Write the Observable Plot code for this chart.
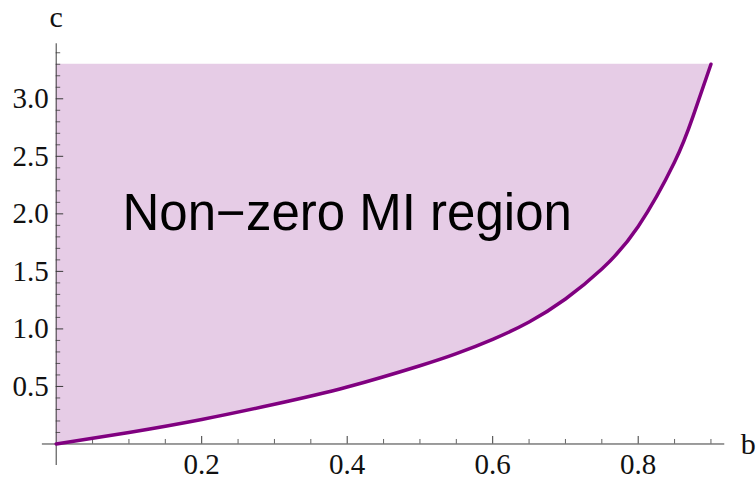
<!DOCTYPE html>
<html>
<head>
<meta charset="utf-8">
<script src="https://cdn.jsdelivr.net/npm/d3@7"></script>
<script src="https://cdn.jsdelivr.net/npm/@observablehq/plot@0.6"></script>
<style>
  html, body { margin: 0; padding: 0; background: #fff; }
  #chart svg { display: block; }
</style>
</head>
<body>
<div id="chart"></div>
<script>
// boundary curve
const bValues = [0, 0.1, 0.2, 0.3, 0.4, 0.5, 0.55, 0.6, 0.65, 0.7, 0.75, 0.8, 0.85, 0.875, 0.9];
const cValues = [0, 0.10, 0.213, 0.345, 0.495, 0.68, 0.785, 0.91, 1.06, 1.26, 1.52, 1.89, 2.45, 2.84, 3.30];
const regionTop = 3.3;

const xMajorTicks = [0.2, 0.4, 0.6, 0.8];
const xTickLabels = ["0.2", "0.4", "0.6", "0.8"];
const xMinorTicks = [0.05, 0.1, 0.15, 0.25, 0.3, 0.35, 0.45, 0.5, 0.55, 0.65, 0.7, 0.75, 0.85, 0.9];
const yMajorTicks = [0.5, 1.0, 1.5, 2.0, 2.5, 3.0];
const yTickLabels = ["0.5", "1.0", "1.5", "2.0", "2.5", "3.0"];
const yMinorTicks = [0.1,0.2,0.3,0.4,0.6,0.7,0.8,0.9,1.1,1.2,1.3,1.4,1.6,1.7,1.8,1.9,2.1,2.2,2.3,2.4,2.6,2.7,2.8,2.9,3.1,3.2,3.3,3.4];
const xAxisExtent = [-0.019, 0.919];
const yAxisExtent = [-0.187, 3.478];
const regionLabel = [{b: 0.4, c: 2.0, text: "Non\u2212zero MI region"}];
const xAxisName = "b";
const yAxisName = "c";

const curve = bValues.map((b, i) => ({b, c: cValues[i]}));
const xLab = xMajorTicks.map((v, i) => ({v, t: xTickLabels[i]}));
const yLab = yMajorTicks.map((v, i) => ({v, t: yTickLabels[i]}));

const purple = "#800080";
const axisColor = "#3a3a3a";
const serif = "'Liberation Serif', 'Times New Roman', serif";

const chart = Plot.plot({
  width: 756,
  height: 480,
  marginLeft: 41.15,
  marginRight: 31,
  marginTop: 40.75,
  marginBottom: 13.5,
  x: {domain: [-0.02, 0.92], axis: null},
  y: {domain: [-0.2, 3.5], axis: null},
  marks: [
    Plot.areaY(curve, {x: "b", y1: "c", y2: regionTop, fill: purple, fillOpacity: 0.2, curve: "natural"}),
    // axes
    Plot.ruleY([0], {x1: xAxisExtent[0], x2: xAxisExtent[1], stroke: axisColor, strokeWidth: 1}),
    Plot.ruleX([0], {y1: yAxisExtent[0], y2: yAxisExtent[1], stroke: axisColor, strokeWidth: 1}),
    // x ticks (pointing up)
    Plot.ruleX(xMajorTicks, {x: d => d, y1: 0, y2: 0, insetTop: 0, insetBottom: 7.5, stroke: axisColor, strokeWidth: 1}),
    Plot.ruleX(xMinorTicks, {x: d => d, y1: 0, y2: 0, insetTop: 0, insetBottom: 4.5, stroke: axisColor, strokeWidth: 0.8}),
    // y ticks (pointing right)
    Plot.ruleY(yMajorTicks, {y: d => d, x1: 0, x2: 0, insetLeft: 0, insetRight: -7.5, stroke: axisColor, strokeWidth: 1}),
    Plot.ruleY(yMinorTicks, {y: d => d, x1: 0, x2: 0, insetLeft: 0, insetRight: -4.5, stroke: axisColor, strokeWidth: 0.8}),
    // tick labels
    Plot.text(xLab, {x: "v", y: 0, text: "t", textAnchor: "middle", lineAnchor: "top", dy: 9, fontSize: 29, fontFamily: serif, fill: "#111"}),
    Plot.text(yLab, {x: 0, y: "v", text: "t", textAnchor: "end", lineAnchor: "middle", dx: -7.5, fontSize: 29, fontFamily: serif, fill: "#111"}),
    // axis names
    Plot.text([xAxisName], {x: xAxisExtent[1], y: 0, text: d => d, textAnchor: "start", lineAnchor: "middle", dx: 16, fontSize: 30, fontFamily: serif, fill: "#111"}),
    Plot.text([yAxisName], {x: 0, y: yAxisExtent[1], text: d => d, textAnchor: "middle", lineAnchor: "middle", dy: -26, fontSize: 30, fontFamily: serif, fill: "#111"}),
    // boundary curve
    Plot.line(curve, {x: "b", y: "c", stroke: purple, strokeWidth: 3.5, curve: "natural"}),
    // region label
    Plot.text(regionLabel, {x: "b", y: "c", text: "text", textAnchor: "middle", lineAnchor: "middle", fontSize: 51, fontFamily: "'Liberation Sans', Arial, sans-serif", fill: "#000"})
  ]
});
document.getElementById("chart").appendChild(chart);
</script>
</body>
</html>
